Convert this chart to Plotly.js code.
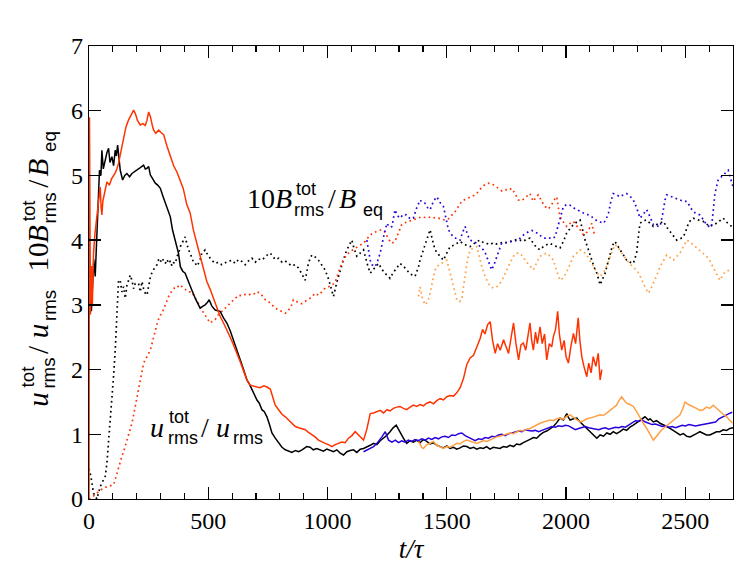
<!DOCTYPE html>
<html>
<head>
<meta charset="utf-8">
<script src="https://cdn.plot.ly/plotly-3.0.1.min.js"></script>
<style>html,body{margin:0;padding:0;background:#fff;}#chart{width:747px;height:575px;}</style>
</head>
<body>
<div id="chart"></div>
<script>
// ---- data: [t/tau, value] pairs ----
const blackSolid = [[10,2.9],[15,3.3],[20,3.7],[26,3.44],[32,4.0],[38,4.6],[44,5.08],[50,5.0],[54,5.39],[60,5.1],[68,5.24],[75,5.35],[82,5.42],[88,5.2],[96,5.29],[103,5.15],[110,5.39],[115,5.3],[120,5.47],[126,5.2],[131,5.08],[141,4.93],[150,5.0],[159,5.03],[170,4.98],[180,5.03],[190,5.06],[201,5.08],[215,5.12],[229,5.16],[236,5.1],[243,5.11],[250,5.14],[257,5.01],[268,4.95],[278,4.88],[288,4.85],[299,4.8],[310,4.68],[320,4.57],[330,4.45],[341,4.36],[350,4.16],[360,4.0],[369,3.85],[375,3.8],[383,3.59],[393,3.52],[403,3.49],[417,3.35],[431,3.23],[448,3.08],[466,2.95],[478,2.98],[487,3.0],[497,3.04],[504,3.08],[515,2.98],[529,2.92],[540,2.91],[550,2.9],[564,2.8],[578,2.72],[592,2.6],[606,2.46],[620,2.32],[634,2.15],[648,2.0],[662,1.84],[672,1.78],[683,1.69],[694,1.62],[704,1.53],[714,1.48],[725,1.38],[735,1.35],[746,1.27],[756,1.16],[767,1.02],[781,0.94],[795,0.86],[809,0.8],[823,0.76],[837,0.74],[851,0.72],[865,0.75],[879,0.73],[893,0.76],[906,0.79],[913,0.81],[927,0.8],[940,0.76],[955,0.78],[969,0.76],[983,0.74],[997,0.77],[1011,0.75],[1025,0.73],[1039,0.76],[1053,0.71],[1067,0.68],[1081,0.73],[1095,0.75],[1109,0.76],[1123,0.72],[1137,0.77],[1151,0.78],[1165,0.8],[1179,0.83],[1193,0.86],[1207,0.84],[1221,0.9],[1234,0.94],[1248,0.98],[1262,1.04],[1275,1.1],[1288,1.14],[1296,1.08],[1304,1.02],[1318,0.94],[1332,0.86],[1346,0.9],[1360,0.88],[1374,0.91],[1388,0.87],[1402,0.92],[1416,0.89],[1430,0.85],[1444,0.87],[1458,0.83],[1472,0.81],[1486,0.79],[1500,0.82],[1514,0.78],[1528,0.8],[1542,0.77],[1556,0.79],[1570,0.82],[1584,0.81],[1598,0.78],[1612,0.8],[1626,0.77],[1640,0.79],[1653,0.78],[1667,0.81],[1681,0.77],[1695,0.8],[1709,0.79],[1723,0.78],[1737,0.81],[1751,0.8],[1765,0.83],[1780,0.81],[1793,0.85],[1807,0.84],[1821,0.87],[1835,0.89],[1849,0.92],[1863,0.95],[1877,0.94],[1891,0.99],[1905,1.03],[1919,1.05],[1933,1.09],[1947,1.12],[1961,1.18],[1975,1.25],[1989,1.22],[2003,1.32],[2010,1.26],[2017,1.22],[2031,1.24],[2045,1.25],[2059,1.19],[2073,1.14],[2087,1.09],[2101,1.04],[2115,0.99],[2129,0.94],[2143,0.99],[2157,0.97],[2171,1.02],[2185,1.0],[2198,1.04],[2212,1.01],[2226,1.04],[2240,1.08],[2254,1.06],[2268,1.11],[2282,1.14],[2296,1.18],[2310,1.21],[2324,1.25],[2331,1.27],[2345,1.22],[2352,1.24],[2366,1.19],[2380,1.21],[2394,1.17],[2408,1.15],[2422,1.12],[2436,1.09],[2450,1.06],[2464,1.02],[2478,0.99],[2492,1.01],[2506,0.97],[2520,0.96],[2533,0.99],[2547,1.01],[2561,1.04],[2575,1.02],[2589,0.99],[2603,0.99],[2617,1.01],[2631,1.04],[2645,1.04],[2659,1.07],[2673,1.06],[2687,1.09],[2700,1.1]];

const redSolid = [[0,0],[2,5.9],[6,2.85],[10,3.6],[14,3.0],[19,3.8],[25,4.1],[33,4.36],[40,4.6],[47,4.82],[51,4.5],[54,4.39],[58,4.6],[65,4.75],[75,4.9],[85,4.85],[95,4.95],[110,5.04],[117,5.1],[124,5.19],[135,5.4],[145,5.6],[155,5.75],[165,5.85],[175,5.92],[187,6.01],[195,5.95],[203,5.85],[215,5.78],[226,5.8],[236,5.77],[243,5.85],[250,5.98],[258,5.9],[265,5.78],[271,5.7],[280,5.65],[292,5.7],[303,5.66],[313,5.63],[327,5.45],[341,5.29],[355,5.15],[369,5.05],[383,4.93],[395,4.8],[410,4.55],[424,4.42],[438,4.15],[452,3.95],[466,3.72],[480,3.54],[494,3.36],[508,3.24],[522,3.1],[536,2.95],[550,2.82],[564,2.72],[578,2.62],[592,2.5],[606,2.38],[620,2.26],[634,2.12],[648,1.98],[662,1.84],[676,1.76],[690,1.74],[704,1.73],[718,1.72],[732,1.75],[746,1.73],[760,1.7],[770,1.58],[781,1.45],[795,1.38],[809,1.31],[823,1.27],[837,1.22],[851,1.16],[865,1.12],[879,1.1],[893,1.08],[907,1.07],[920,1.03],[934,1.0],[948,0.96],[962,0.91],[976,0.88],[990,0.86],[1004,0.84],[1018,0.81],[1032,0.84],[1046,0.86],[1060,0.88],[1074,0.87],[1088,0.94],[1102,0.98],[1116,1.04],[1130,0.99],[1144,0.93],[1151,0.91],[1165,1.08],[1179,1.32],[1193,1.33],[1207,1.35],[1221,1.37],[1235,1.33],[1249,1.38],[1262,1.36],[1276,1.4],[1290,1.42],[1304,1.43],[1318,1.4],[1332,1.38],[1346,1.42],[1360,1.45],[1374,1.43],[1388,1.46],[1402,1.44],[1416,1.48],[1430,1.5],[1444,1.47],[1458,1.52],[1472,1.55],[1486,1.53],[1500,1.58],[1514,1.6],[1528,1.59],[1542,1.64],[1556,1.72],[1570,1.86],[1584,2.08],[1598,2.18],[1612,2.22],[1626,2.35],[1640,2.48],[1650,2.62],[1660,2.55],[1672,2.7],[1682,2.74],[1692,2.45],[1703,2.25],[1713,2.4],[1724,2.3],[1738,2.46],[1748,2.35],[1759,2.25],[1770,2.5],[1780,2.72],[1790,2.4],[1801,2.15],[1811,2.38],[1821,2.41],[1831,2.3],[1840,2.55],[1849,2.72],[1856,2.45],[1863,2.3],[1872,2.58],[1880,2.4],[1891,2.66],[1900,2.4],[1910,2.55],[1919,2.15],[1930,2.4],[1940,2.35],[1947,2.51],[1956,2.62],[1965,2.9],[1972,2.55],[1982,2.3],[1992,2.45],[2000,2.2],[2010,2.1],[2020,2.35],[2031,2.56],[2040,2.4],[2051,2.8],[2058,2.45],[2066,2.2],[2075,2.05],[2087,1.89],[2095,2.1],[2105,1.95],[2114,2.2],[2125,2.05],[2135,2.25],[2143,1.84],[2150,2.0]];

const blueSolid = [[1151,0.73],[1165,0.76],[1179,0.79],[1193,0.81],[1207,0.86],[1221,0.92],[1228,0.96],[1242,1.04],[1249,0.97],[1256,0.91],[1270,0.88],[1284,0.91],[1298,0.87],[1311,0.9],[1325,0.88],[1339,0.91],[1353,0.89],[1367,0.92],[1381,0.9],[1395,0.93],[1409,0.91],[1423,0.94],[1437,0.92],[1451,0.95],[1465,0.93],[1479,0.96],[1493,0.97],[1507,0.95],[1521,0.99],[1535,0.98],[1549,1.01],[1563,1.02],[1577,0.98],[1591,0.95],[1605,0.92],[1619,0.9],[1633,0.93],[1647,0.92],[1661,0.95],[1675,0.94],[1689,0.97],[1703,0.96],[1717,0.99],[1731,1.0],[1745,0.98],[1759,1.01],[1773,1.02],[1787,1.04],[1801,1.05],[1815,1.04],[1829,1.07],[1843,1.06],[1857,1.05],[1871,1.06],[1885,1.04],[1899,1.06],[1913,1.08],[1927,1.1],[1941,1.12],[1955,1.11],[1969,1.13],[1983,1.12],[1997,1.14],[2011,1.13],[2025,1.1],[2039,1.07],[2053,1.09],[2067,1.11],[2081,1.12],[2095,1.1],[2109,1.09],[2123,1.08],[2137,1.07],[2151,1.09],[2165,1.1],[2179,1.08],[2193,1.09],[2207,1.11],[2221,1.1],[2235,1.12],[2249,1.11],[2263,1.14],[2277,1.17],[2291,1.21],[2305,1.2],[2319,1.22],[2333,1.19],[2347,1.17],[2361,1.15],[2375,1.16],[2389,1.14],[2403,1.12],[2417,1.13],[2431,1.11],[2445,1.12],[2459,1.1],[2473,1.12],[2487,1.14],[2501,1.13],[2515,1.15],[2529,1.14],[2543,1.13],[2557,1.14],[2571,1.15],[2585,1.16],[2599,1.17],[2613,1.18],[2627,1.19],[2641,1.24],[2655,1.27],[2669,1.29],[2683,1.32],[2697,1.34]];

const orangeSolid = [[1381,0.89],[1395,0.8],[1402,0.78],[1416,0.84],[1430,0.86],[1444,0.89],[1458,0.83],[1472,0.8],[1486,0.78],[1500,0.81],[1514,0.8],[1528,0.83],[1542,0.86],[1556,0.85],[1570,0.89],[1584,0.91],[1598,0.89],[1612,0.87],[1626,0.86],[1640,0.88],[1654,0.9],[1668,0.89],[1681,0.91],[1695,0.94],[1709,0.96],[1723,0.97],[1737,0.99],[1751,1.0],[1765,1.02],[1779,1.01],[1793,1.04],[1807,1.06],[1821,1.05],[1835,1.08],[1849,1.09],[1863,1.12],[1877,1.14],[1891,1.17],[1905,1.19],[1919,1.2],[1933,1.22],[1947,1.21],[1961,1.24],[1975,1.25],[1989,1.23],[2003,1.28],[2017,1.3],[2031,1.26],[2045,1.22],[2059,1.19],[2073,1.21],[2087,1.24],[2101,1.25],[2115,1.27],[2129,1.28],[2143,1.3],[2157,1.29],[2171,1.33],[2185,1.38],[2198,1.41],[2212,1.45],[2222,1.52],[2233,1.58],[2243,1.53],[2254,1.48],[2268,1.46],[2282,1.43],[2296,1.35],[2310,1.25],[2324,1.17],[2338,1.09],[2352,1.0],[2366,0.91],[2380,0.97],[2394,1.04],[2408,1.09],[2422,1.13],[2436,1.17],[2450,1.22],[2464,1.26],[2478,1.3],[2492,1.42],[2499,1.5],[2513,1.46],[2533,1.43],[2547,1.4],[2561,1.37],[2575,1.38],[2589,1.42],[2603,1.4],[2617,1.45],[2631,1.4],[2645,1.35],[2659,1.31],[2673,1.27],[2687,1.21],[2698,1.17]];

const blackDotted = [[0,0.47],[8,0.35],[19,0.09],[33,0.0],[47,0.19],[61,0.3],[68,0.35],[75,0.55],[82,0.86],[89,1.2],[96,1.53],[103,1.9],[110,2.3],[117,2.97],[124,3.38],[131,3.38],[138,3.2],[145,3.28],[152,3.1],[159,3.3],[166,3.4],[173,3.46],[180,3.38],[187,3.25],[194,3.33],[201,3.33],[208,3.33],[215,3.2],[222,3.36],[229,3.25],[236,3.18],[243,3.15],[250,3.3],[257,3.42],[264,3.5],[271,3.55],[278,3.59],[285,3.62],[292,3.7],[299,3.66],[306,3.72],[313,3.68],[320,3.64],[327,3.7],[334,3.64],[341,3.68],[348,3.6],[355,3.65],[362,3.64],[369,3.75],[376,3.8],[383,3.9],[390,3.95],[396,4.0],[403,4.05],[410,3.95],[417,3.85],[424,3.8],[431,3.72],[438,3.66],[445,3.65],[452,3.6],[459,3.64],[466,3.7],[473,3.8],[480,3.82],[487,3.85],[494,3.8],[501,3.75],[508,3.72],[515,3.69],[529,3.64],[543,3.66],[557,3.62],[571,3.65],[585,3.67],[599,3.69],[613,3.64],[627,3.7],[641,3.67],[655,3.62],[669,3.68],[683,3.72],[697,3.66],[711,3.71],[725,3.69],[739,3.75],[750,3.78],[760,3.8],[770,3.75],[781,3.7],[795,3.72],[809,3.66],[822,3.68],[836,3.64],[850,3.6],[864,3.62],[878,3.57],[892,3.48],[906,3.38],[913,3.5],[920,3.65],[934,3.77],[948,3.74],[962,3.69],[976,3.62],[990,3.54],[1004,3.4],[1011,3.3],[1025,3.13],[1039,3.35],[1053,3.54],[1067,3.7],[1081,3.85],[1095,3.95],[1102,4.0],[1109,3.9],[1123,3.75],[1137,3.8],[1151,3.85],[1165,3.65],[1179,3.49],[1193,3.55],[1207,3.62],[1214,3.64],[1228,3.55],[1242,3.48],[1255,3.45],[1262,3.41],[1276,3.5],[1290,3.58],[1304,3.64],[1318,3.6],[1332,3.54],[1346,3.48],[1360,3.45],[1367,3.44],[1381,3.58],[1388,3.69],[1402,3.85],[1416,4.0],[1430,4.16],[1440,4.0],[1451,3.85],[1465,3.78],[1479,3.72],[1486,3.69],[1500,3.8],[1514,3.9],[1528,3.92],[1542,3.95],[1556,3.98],[1570,3.94],[1584,3.92],[1598,3.9],[1612,3.94],[1626,3.98],[1640,4.0],[1654,3.96],[1667,3.95],[1681,3.93],[1695,3.96],[1709,3.94],[1723,3.95],[1737,3.97],[1751,3.96],[1765,3.98],[1779,3.99],[1793,4.01],[1807,4.0],[1821,3.98],[1835,4.02],[1849,4.03],[1863,3.95],[1877,3.88],[1891,3.85],[1905,3.9],[1919,3.93],[1933,3.95],[1947,3.92],[1961,3.9],[1975,3.88],[1989,3.98],[2003,4.11],[2017,4.18],[2031,4.24],[2045,4.28],[2059,4.31],[2070,4.15],[2080,4.0],[2094,3.85],[2108,3.69],[2118,3.58],[2129,3.49],[2143,3.31],[2153,3.4],[2164,3.49],[2175,3.65],[2185,3.8],[2195,3.92],[2205,3.98],[2215,3.92],[2226,3.85],[2240,3.76],[2254,3.69],[2268,3.66],[2282,3.64],[2289,3.72],[2296,3.8],[2303,4.05],[2310,4.26],[2324,4.3],[2338,4.31],[2352,4.26],[2366,4.21],[2380,4.24],[2394,4.27],[2408,4.29],[2422,4.2],[2436,4.13],[2450,4.06],[2464,4.0],[2478,4.02],[2492,4.05],[2503,4.15],[2513,4.26],[2523,4.31],[2533,4.34],[2547,4.32],[2561,4.3],[2575,4.29],[2589,4.25],[2603,4.21],[2617,4.24],[2631,4.26],[2645,4.3],[2659,4.34],[2673,4.28],[2687,4.23],[2700,4.2]];

const redDotted = [[0,0.0],[10,0.02],[20,0.05],[33,0.09],[47,0.13],[61,0.17],[75,0.19],[89,0.2],[103,0.22],[110,0.3],[117,0.4],[124,0.5],[131,0.58],[138,0.66],[145,0.73],[152,0.81],[159,0.9],[166,1.0],[173,1.08],[180,1.17],[187,1.3],[194,1.44],[201,1.58],[208,1.72],[215,1.86],[222,1.98],[229,2.1],[236,2.15],[243,2.2],[250,2.23],[257,2.3],[264,2.4],[271,2.51],[278,2.6],[285,2.7],[292,2.78],[299,2.84],[306,2.87],[313,2.94],[320,3.0],[327,3.05],[334,3.13],[341,3.18],[348,3.22],[355,3.24],[362,3.28],[369,3.27],[376,3.29],[383,3.31],[390,3.28],[397,3.26],[403,3.23],[410,3.22],[417,3.2],[431,3.2],[445,3.12],[459,3.02],[466,2.96],[473,2.92],[480,2.87],[487,2.83],[494,2.78],[501,2.75],[508,2.72],[515,2.74],[522,2.76],[529,2.77],[536,2.82],[543,2.86],[550,2.88],[557,2.9],[571,2.95],[585,3.0],[599,3.05],[613,3.1],[627,3.15],[641,3.14],[655,3.16],[669,3.15],[683,3.18],[697,3.17],[704,3.2],[718,3.18],[732,3.12],[739,3.08],[753,3.05],[767,3.0],[781,2.95],[795,2.92],[809,2.9],[823,2.87],[837,2.92],[850,3.0],[857,3.08],[871,3.05],[885,3.02],[892,3.02],[906,3.05],[920,3.08],[934,3.12],[948,3.18],[962,3.15],[976,3.2],[990,3.26],[1004,3.28],[1018,3.3],[1032,3.35],[1046,3.5],[1060,3.65],[1074,3.74],[1088,3.8],[1102,3.84],[1116,3.87],[1130,3.9],[1144,3.94],[1158,3.98],[1172,4.05],[1186,4.1],[1200,4.13],[1214,4.15],[1228,4.16],[1242,4.12],[1255,4.02],[1269,3.95],[1283,3.98],[1297,4.1],[1311,4.24],[1325,4.27],[1339,4.29],[1353,4.31],[1367,4.33],[1381,4.35],[1395,4.36],[1409,4.35],[1423,4.36],[1437,4.34],[1451,4.35],[1465,4.34],[1479,4.32],[1493,4.31],[1507,4.33],[1521,4.38],[1535,4.44],[1549,4.52],[1563,4.6],[1577,4.63],[1591,4.65],[1605,4.68],[1619,4.7],[1633,4.75],[1647,4.82],[1661,4.86],[1675,4.88],[1689,4.87],[1703,4.84],[1717,4.8],[1731,4.76],[1745,4.78],[1759,4.77],[1772,4.8],[1786,4.72],[1800,4.62],[1814,4.61],[1828,4.66],[1842,4.7],[1849,4.72],[1856,4.65],[1863,4.6],[1877,4.68],[1884,4.7],[1898,4.6],[1912,4.52],[1926,4.48],[1940,4.55],[1954,4.64],[1961,4.67],[1968,4.5],[1975,4.36],[1989,4.28],[2003,4.21],[2017,4.26],[2031,4.29],[2045,4.22],[2059,4.16],[2073,4.08],[2087,4.12],[2101,4.2],[2108,4.26],[2118,4.1]];

const blueDotted = [[1165,4.0],[1172,3.85],[1179,3.69],[1186,3.62],[1200,3.59],[1210,3.68],[1221,3.8],[1235,4.05],[1249,4.26],[1260,4.2],[1270,4.21],[1283,4.47],[1293,4.38],[1304,4.34],[1318,4.4],[1332,4.39],[1346,4.33],[1360,4.34],[1374,4.5],[1388,4.62],[1398,4.58],[1409,4.57],[1420,4.5],[1430,4.47],[1444,4.6],[1458,4.67],[1472,4.58],[1486,4.52],[1497,4.3],[1507,4.16],[1517,4.1],[1528,4.05],[1542,4.02],[1556,4.0],[1566,4.12],[1577,4.21],[1587,4.08],[1598,4.0],[1612,3.98],[1626,3.95],[1640,3.9],[1653,3.85],[1664,3.78],[1674,3.69],[1681,3.6],[1688,3.54],[1698,3.62],[1709,3.75],[1720,3.85],[1730,3.95],[1744,3.96],[1758,3.97],[1772,3.98],[1786,3.99],[1800,4.0],[1814,4.06],[1828,4.1],[1842,4.13],[1856,4.15],[1870,4.13],[1884,4.1],[1898,4.05],[1912,4.03],[1926,4.04],[1940,4.02],[1954,4.05],[1968,4.24],[1980,4.4],[1989,4.52],[2003,4.55],[2017,4.54],[2031,4.5],[2045,4.47],[2059,4.45],[2073,4.42],[2087,4.4],[2101,4.38],[2115,4.34],[2129,4.3],[2143,4.28],[2157,4.26],[2168,4.32],[2178,4.42],[2188,4.6],[2198,4.72],[2212,4.7],[2226,4.67],[2240,4.7],[2254,4.72],[2268,4.68],[2282,4.62],[2296,4.5],[2310,4.34],[2324,4.4],[2338,4.47],[2352,4.36],[2366,4.24],[2380,4.22],[2394,4.21],[2405,4.4],[2415,4.62],[2422,4.7],[2436,4.68],[2450,4.67],[2464,4.64],[2478,4.62],[2492,4.6],[2506,4.6],[2520,4.52],[2533,4.44],[2547,4.41],[2561,4.39],[2575,4.32],[2589,4.24],[2603,4.2],[2610,4.21],[2617,4.45],[2624,4.72],[2638,4.93],[2652,4.98],[2659,5.01],[2670,5.05],[2680,5.08],[2690,4.95],[2700,4.83]];

const orangeDotted = [[1381,3.13],[1388,3.28],[1398,3.1],[1409,3.0],[1420,3.05],[1430,3.18],[1440,3.36],[1451,3.54],[1461,3.6],[1472,3.62],[1486,3.66],[1500,3.69],[1510,3.55],[1521,3.38],[1531,3.22],[1542,3.08],[1553,3.05],[1563,3.08],[1570,3.28],[1577,3.49],[1587,3.7],[1598,3.85],[1612,3.88],[1626,3.9],[1636,3.75],[1647,3.59],[1660,3.45],[1674,3.33],[1684,3.28],[1695,3.26],[1709,3.28],[1723,3.33],[1737,3.42],[1751,3.54],[1765,3.65],[1779,3.75],[1793,3.8],[1807,3.8],[1821,3.72],[1835,3.66],[1849,3.6],[1863,3.54],[1877,3.65],[1891,3.75],[1905,3.78],[1919,3.8],[1933,3.75],[1947,3.69],[1961,3.52],[1975,3.38],[1989,3.42],[2003,3.51],[2017,3.63],[2031,3.75],[2045,3.8],[2059,3.85],[2073,3.82],[2087,3.77],[2101,3.68],[2115,3.59],[2129,3.5],[2143,3.44],[2153,3.48],[2164,3.54],[2175,3.65],[2185,3.75],[2195,3.85],[2205,3.93],[2215,3.9],[2226,3.85],[2240,3.77],[2254,3.69],[2268,3.63],[2282,3.58],[2296,3.54],[2310,3.45],[2324,3.33],[2335,3.25],[2345,3.18],[2355,3.24],[2366,3.33],[2380,3.45],[2394,3.59],[2408,3.68],[2422,3.77],[2436,3.73],[2450,3.69],[2464,3.75],[2478,3.8],[2492,3.9],[2506,4.0],[2520,3.97],[2533,3.93],[2547,3.89],[2561,3.85],[2575,3.8],[2589,3.75],[2603,3.68],[2617,3.59],[2631,3.48],[2645,3.38],[2655,3.45],[2666,3.51],[2680,3.53],[2694,3.54]];

const xTicks = [0, 500, 1000, 1500, 2000, 2500];
const yTicks = [0, 1, 2, 3, 4, 5, 6, 7];

// ---- styling ----
const BLACK = '#000000', RED = '#ff3300', BLUE = '#2a00dc', ORANGE = '#ffa044';
const SERIF = 'Liberation Serif';
const SANS = 'Liberation Sans';

function tr(data, color, dotted) {
  return {
    x: data.map(p => p[0]), y: data.map(p => p[1]),
    type: 'scatter', mode: 'lines', hoverinfo: 'skip', showlegend: false,
    line: {color: color, width: dotted ? 1.7 : 1.5, dash: dotted ? '1.7px,3.3px' : 'solid'}
  };
}

const traces = [
  tr(blackDotted, BLACK, true), tr(redDotted, RED, true),
  tr(blueDotted, BLUE, true), tr(orangeDotted, ORANGE, true),
  tr(blackSolid, BLACK, false), tr(redSolid, RED, false),
  tr(blueSolid, BLUE, false), tr(orangeSolid, ORANGE, false)
];

// ---- math-style labels built from pieces (main text, stacked sup/sub) ----
const M = {l: 89, r: 14, t: 46, b: 76, W: 747, H: 575};
const PL = M.l, PR = M.W - M.r, PT = M.t, PB = M.H - M.b;
const ctx = document.createElement('canvas').getContext('2d');
function measure(text, fam, size, italic) {
  ctx.font = (italic ? 'italic ' : '') + size + 'px "' + fam + '"';
  return ctx.measureText(text).width;
}
// pieces: [text, family, size, italic, offsetAlongText, baselineShift]
function mathLabel(pieces, x0, y0, rot, scale) {
  return pieces.map(p => {
    const [text, fam, size0, italic, at0, dy0] = p;
    const size = size0 * scale, at = at0 * scale, dy = dy0 * scale;
    const w = measure(text, fam, size, italic);
    const u = at + w / 2;
    const v = dy - 0.34 * size;
    const X = rot ? x0 + v : x0 + u;
    const Y = rot ? y0 - u : y0 + v;
    return {
      xref: 'paper', yref: 'paper', x: (X - PL) / (PR - PL), y: (PB - Y) / (PB - PT),
      xanchor: 'center', yanchor: 'middle', textangle: rot ? -90 : 0,
      showarrow: false, borderpad: 0, text: text,
      font: {family: fam, size: size, style: italic ? 'italic' : 'normal', color: '#000'}
    };
  });
}
const bPieces = [
  ['10', SERIF, 28, false, 0, 0], ['B', SERIF, 28, true, 28, 0],
  ['tot', SANS, 18, false, 49, -12.5], ['rms', SANS, 18, false, 47, 8],
  ['/', SERIF, 28, false, 81, 0], ['B', SERIF, 28, true, 92, 0],
  ['eq', SANS, 18, false, 116, 8]
];
const uPieces = [
  ['u', SERIF, 28, true, 0, 0],
  ['tot', SANS, 18, false, 19, -13.5], ['rms', SANS, 18, false, 18, 7],
  ['/', SERIF, 28, false, 51, 0], ['u', SERIF, 28, true, 66, 0],
  ['rms', SANS, 18, false, 83, 7]
];

const annotations = [].concat(
  mathLabel(bPieces, 247, 208, false, 1),
  mathLabel(uPieces, 150, 437, false, 1),
  mathLabel(bPieces, 48, 272, true, 1.04),
  mathLabel(uPieces, 48, 407, true, 1.04)
);

const axisCommon = {
  showline: true, linecolor: '#000', linewidth: 1.3, mirror: 'ticks',
  ticks: 'inside', ticklen: 12, tickwidth: 1.3, tickcolor: '#000',
  showgrid: false, zeroline: false,
  tickfont: {family: SERIF, size: 24, color: '#000'}
};

const layout = {
  width: M.W, height: M.H,
  margin: {l: M.l, r: M.r, t: M.t, b: M.b},
  paper_bgcolor: '#fff', plot_bgcolor: '#fff',
  showlegend: false,
  xaxis: Object.assign({}, axisCommon, {
    range: [0, 2700], tickmode: 'array', tickvals: xTicks, ticktext: xTicks.map(String),
    minor: {dtick: 100, tick0: 0, ticks: 'inside', ticklen: 6, tickwidth: 1.2, tickcolor: '#000', showgrid: false},
    title: {text: 't/τ', font: {family: SERIF, size: 27, style: 'italic', color: '#000'}, standoff: 6}
  }),
  yaxis: Object.assign({}, axisCommon, {
    range: [0, 7], tickmode: 'array', tickvals: yTicks, ticktext: yTicks.map(String)
  }),
  annotations: annotations
};

Plotly.newPlot('chart', traces, layout, {staticPlot: true, displayModeBar: false});
</script>
</body>
</html>
